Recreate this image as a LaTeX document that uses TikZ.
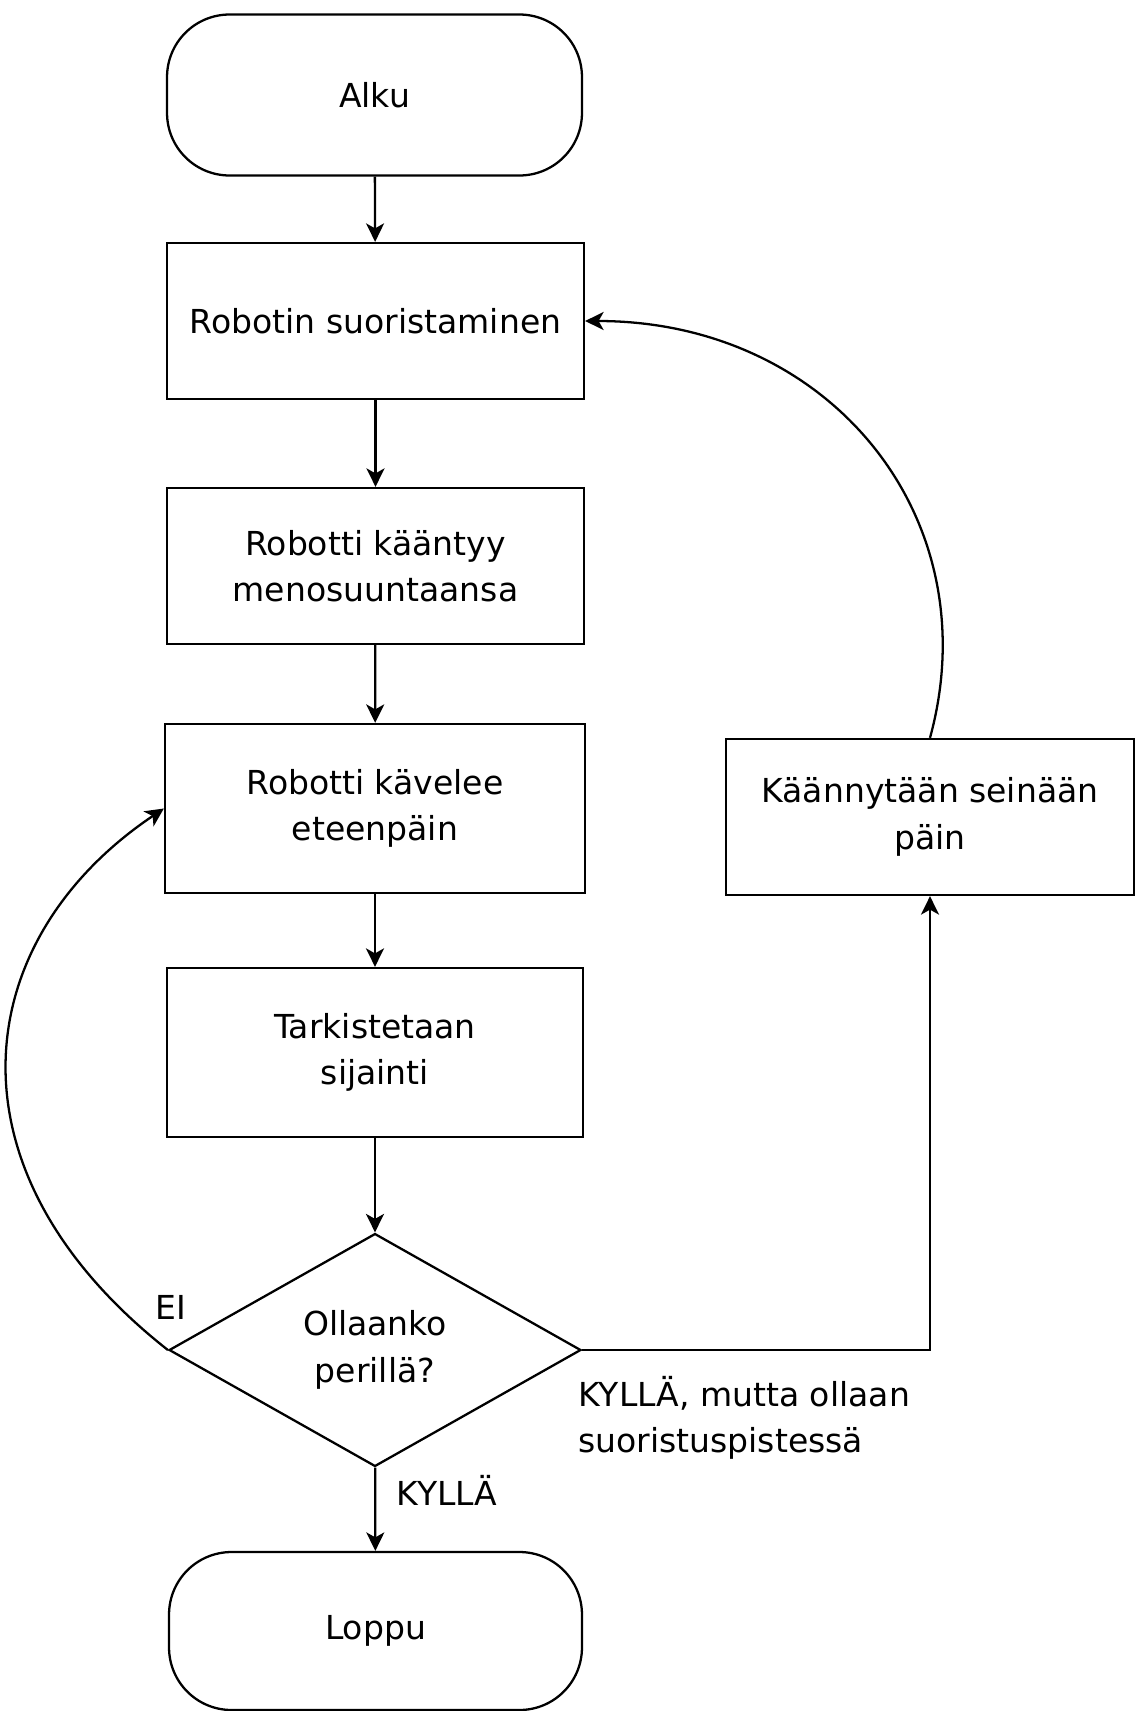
\documentclass[tikz,border=0pt]{standalone}
\usepackage{fontspec}
\setmainfont{DejaVu Sans}
\usepackage{tikz}
\usetikzlibrary{arrows.meta,shapes.geometric}
\tikzset{
	box/.style={draw, line width=1.3pt, align=center, inner sep=0pt},
	termbox/.style={box, rounded corners=1.25cm},
	flow/.style={line width=1.3pt, -{Stealth[length=0.37cm,width=0.36cm,inset=0.1cm]}}
}
\tikzstyle{lbl}=[inner sep=0pt]
\tikzstyle{choice}=[draw, diamond, line width=1.3pt, align=center, inner sep=0pt, minimum width=8.24cm, minimum height=4.66cm]
\newcommand{\bigtext}{\fontsize{18.8pt}{26.5pt}\selectfont}

\begin{document}
\begin{tikzpicture}[x=0.02cm, y=0.02cm, every node/.style={font=\bigtext}]
	\useasboundingbox (0,0) rectangle (1136,-1711);
	\node[termbox, minimum width=8.3cm, minimum height=3.22cm] (alku) at (374.5,-95) {Alku};
	\node[box, minimum width=8.34cm, minimum height=3.12cm] (suor) at (375.5,-321) {Robotin suoristaminen};
	\node[box, minimum width=8.34cm, minimum height=3.12cm] (kaan) at (375.5,-566) {Robotti kääntyy\\menosuuntaansa};
	\node[box, minimum width=8.4cm, minimum height=3.38cm] (kav) at (375,-808.5) {Robotti kävelee\\eteenpäin};
	\node[box, minimum width=8.32cm, minimum height=3.38cm] (tark) at (375,-1052.5) {Tarkistetaan\\sijainti};
	\node[choice] (dec) at (375,-1350) {Ollaanko\\perillä?};
	\node[termbox, minimum width=8.26cm, minimum height=3.16cm] (loppu) at (375.5,-1631) {Loppu};
	\node[box, minimum width=8.16cm, minimum height=3.12cm] (turn) at (930,-817) {Käännytään seinään\\päin};
%	labels
	\node[lbl] (ei) at (171,-1307) {EI};
	\node[lbl] (kylla) at (447,-1490) {KYLLÄ};
	\node[lbl, anchor=west, align=left] (kyllamutta) at (578,-1418) {KYLLÄ, mutta ollaan\\suoristuspistessä};

	\draw[flow] (alku) -- (suor);
	\draw[flow] (suor) -- (kaan);
	\draw[flow] (kaan) -- (kav);
	\draw[flow] (kav) -- (tark);
	\draw[flow] (tark) -- (dec);
	\draw[flow] (dec) -- (loppu);
	\draw[flow] (dec.west) .. controls +(-229,180) and +(-195,-131) .. (kav.west);
	\draw[flow] (dec.east) -| (turn.south);
	\draw[flow] (turn.north) .. controls +(60,219) and +(246,0) .. (suor.east);
\end{tikzpicture}
\end{document}
